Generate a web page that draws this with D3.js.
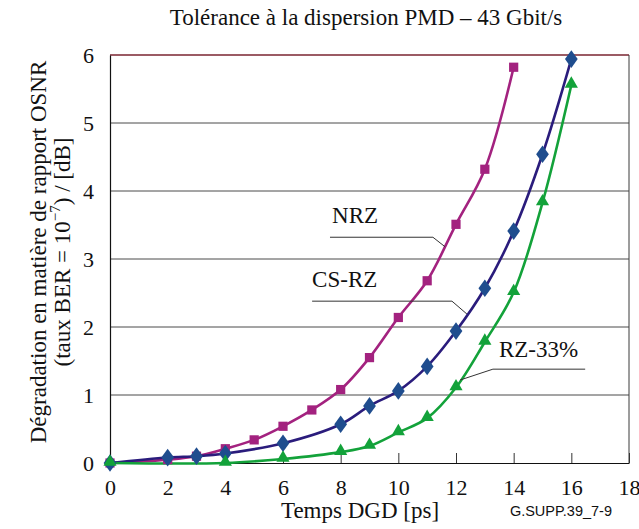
<!DOCTYPE html>
<html><head><meta charset="utf-8">
<script src="https://cdn.jsdelivr.net/npm/d3@7"></script>
<style>
html,body{margin:0;padding:0;background:#fff;}
svg{display:block;}
.serif{font-family:"Liberation Serif","Times New Roman",serif;}
</style></head>
<body>
<svg id="chart" width="639" height="529"></svg>
<script>
// ---- data ----
const nrzX   = [0, 2, 3, 4, 5, 6, 7, 8, 9, 10, 11, 12, 13, 14];
const nrzY   = [0, 0.05, 0.1, 0.21, 0.34, 0.54, 0.78, 1.08, 1.55, 2.14, 2.68, 3.51, 4.32, 5.82];
const csrzX  = [0, 2, 3, 4, 6, 8, 9, 10, 11, 12, 13, 14, 15, 16];
const csrzY  = [0, 0.08, 0.1, 0.14, 0.29, 0.57, 0.84, 1.06, 1.42, 1.94, 2.57, 3.41, 4.54, 5.94];
const rz33X  = [0, 4, 6, 8, 9, 10, 11, 12, 13, 14, 15, 16];
const rz33Y  = [0, 0, 0.06, 0.16, 0.25, 0.45, 0.66, 1.11, 1.78, 2.51, 3.83, 5.56];
const xTicks = [0, 2, 4, 6, 8, 10, 12, 14, 16, 18];
const yTicks = [0, 1, 2, 3, 4, 5, 6];
const seriesNames = ["NRZ", "CS-RZ", "RZ-33%"];
const titleText = "Tolérance à la dispersion PMD – 43 Gbit/s";
const xTitle = "Temps DGD [ps]";
const yTitle1 = "Dégradation en matière de rapport OSNR";
const sourceText = "G.SUPP.39_7-9";
// label anchor (data units) and leader lines (data units)
const labelPos = [[7.70, 3.53], [7.01, 2.59], [13.49, 1.56]];
const leaders = [
  [[7.63, 3.32], [11.2, 3.32], [11.62, 3.18]],
  [[7.01, 2.38], [11.86, 2.38], [12.38, 2.19]],
  [[16.48, 1.38], [13.28, 1.38], [12.14, 1.22]]
];

const svg = d3.select("#chart");
const x = d3.scaleLinear().domain([0, 18]).range([110, 629]);
const y = d3.scaleLinear().domain([0, 6]).range([463, 55]);

// gridlines
svg.append("g").selectAll("line").data(yTicks.filter(d => d > 0 && d < 6)).join("line")
  .attr("x1", x(0)).attr("x2", x(18)).attr("y1", d => y(d)).attr("y2", d => y(d))
  .attr("stroke", "#4a4a4a").attr("stroke-width", 1);
// borders
svg.append("line").attr("x1", x(0)).attr("x2", x(18)).attr("y1", y(6)).attr("y2", y(6))
  .attr("stroke", "#7a2430").attr("stroke-width", 1.3);
svg.append("line").attr("x1", x(18)).attr("x2", x(18)).attr("y1", y(6)).attr("y2", y(0))
  .attr("stroke", "#3a3a3a").attr("stroke-width", 1);

// axes
const xAxis = d3.axisBottom(x).tickValues(xTicks).tickFormat(d3.format("d"))
  .tickSizeInner(-10).tickSizeOuter(0).tickPadding(16);
const gx = svg.append("g").attr("transform", `translate(0,${y(0)})`).call(xAxis);
gx.select(".domain").attr("stroke", "#111").attr("stroke-width", 1.2);
gx.selectAll(".tick line").attr("stroke", "#333");
gx.selectAll("text").attr("class", "serif").attr("font-size", 22).attr("fill", "#111");

const yAxis = d3.axisLeft(y).tickValues(yTicks).tickFormat(d3.format("d")).tickSize(0).tickPadding(16);
const gy = svg.append("g").attr("transform", `translate(${x(0)},0)`).call(yAxis);
gy.select(".domain").attr("stroke", "#111").attr("stroke-width", 1.2);
gy.selectAll("text").attr("class", "serif").attr("font-size", 22).attr("fill", "#111");

// series
const series = [
  {xs: nrzX, ys: nrzY, line: "#a3227f", fill: "#a3227f", sym: "square"},
  {xs: csrzX, ys: csrzY, line: "#2a1c7c", fill: "#1f4d8e", sym: "diamond"},
  {xs: rz33X, ys: rz33Y, line: "#13a23a", fill: "#13a23a", sym: "triangle"}
];
const lineGen = d3.line().x(d => x(d[0])).y(d => y(d[1])).curve(d3.curveCatmullRom.alpha(0.5));
series.forEach(s => {
  const pts = s.xs.map((v, i) => [v, s.ys[i]]);
  svg.append("path").datum(pts).attr("d", lineGen).attr("fill", "none")
    .attr("stroke", s.line).attr("stroke-width", 2.6);
});
series.forEach(s => {
  const pts = s.xs.map((v, i) => [v, s.ys[i]]);
  let symType, size;
  if (s.sym === "square") { symType = d3.symbolSquare; size = 85; }
  else if (s.sym === "diamond") { symType = d3.symbolDiamond; size = 90; }
  else { symType = d3.symbolTriangle; size = 75; }
  svg.append("g").selectAll("path").data(pts).join("path")
    .attr("transform", d => s.sym === "diamond"
      ? `translate(${x(d[0])},${y(d[1])}) scale(1.25,1)`
      : `translate(${x(d[0])},${y(d[1]) - (s.sym === "triangle" ? 1 : 0)})`)
    .attr("d", d3.symbol().type(symType).size(size)())
    .attr("fill", s.fill);
});

// labels & leader lines
const leaderGen = d3.line().x(d => x(d[0])).y(d => y(d[1]));
leaders.forEach(l => {
  svg.append("path").attr("d", leaderGen(l)).attr("fill", "none")
    .attr("stroke", "#333").attr("stroke-width", 1);
});
seriesNames.forEach((n, i) => {
  svg.append("text").attr("class", "serif").attr("x", x(labelPos[i][0])).attr("y", y(labelPos[i][1]))
    .attr("font-size", 23).attr("fill", "#111").text(n);
});

// titles
svg.append("text").attr("class", "serif").attr("x", 366).attr("y", 25).attr("text-anchor", "middle")
  .attr("font-size", 23).attr("fill", "#111").text(titleText);
svg.append("text").attr("class", "serif").attr("x", 360).attr("y", 518).attr("text-anchor", "middle")
  .attr("font-size", 23).attr("fill", "#111").text(xTitle);
svg.append("text").attr("x", 612).attr("y", 516).attr("text-anchor", "end")
  .style("font-family", "'Liberation Sans', Arial, sans-serif").attr("font-size", 14.5)
  .attr("fill", "#111").text(sourceText);

const yt = svg.append("g").attr("transform", "translate(0,252) rotate(-90)");
yt.append("text").attr("class", "serif").attr("x", 0).attr("y", 46).attr("text-anchor", "middle")
  .attr("font-size", 23).attr("fill", "#111").text(yTitle1);
const t2 = yt.append("text").attr("class", "serif").attr("x", 0).attr("y", 70).attr("text-anchor", "middle")
  .attr("font-size", 23).attr("fill", "#111");
t2.append("tspan").text("(taux BER = 10");
t2.append("tspan").attr("dy", -10).attr("font-size", 15).text("−7");
t2.append("tspan").attr("dy", 10).text(") / [dB]");
</script>
</body></html>
